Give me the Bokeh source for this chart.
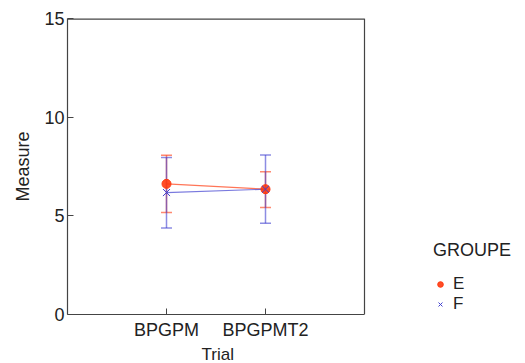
from bokeh.plotting import figure
from bokeh.models import ColumnDataSource, Whisker, TeeHead, Legend, LegendItem, FixedTicker, Span, Title
from bokeh.embed import file_html
from bokeh.resources import INLINE

trials = ["BPGPM", "BPGPMT2"]
groups = ["E", "F"]
e_mean = [6.62, 6.35]
e_upper = [8.07, 7.24]
e_lower = [5.17, 5.42]
f_mean = [6.18, 6.35]
f_upper = [7.96, 8.08]
f_lower = [4.38, 4.63]
y_ticks = [0, 5, 10, 15]

E_COLOR = "#ff3a10"
F_COLOR = "#4040d0"
FONT = "Liberation Sans"
AX = "#444444"
TXT = "#222222"

xs = [i + 1 for i in range(len(trials))]
X_MAX = len(trials) + 1          # visible box spans 0..3
BOX_PX = 297                     # box width in pixels
FRAME_PX = 525 - 67              # frame extends to the right edge so the legend can live there
x_end = X_MAX * FRAME_PX / BOX_PX

p = figure(width=525, height=363, output_backend="svg", toolbar_location=None,
           x_range=(0, x_end), y_range=(0, 15),
           min_border_left=67, min_border_right=0, min_border_top=18, min_border_bottom=10)
p.grid.visible = False
p.outline_line_color = None

for ax in (p.xaxis[0], p.yaxis[0]):
    ax.major_tick_in = 6
    ax.major_tick_out = 0
    ax.minor_tick_line_color = None
    ax.axis_line_color = AX
    ax.axis_line_width = 1.2
    ax.major_tick_line_color = AX
    ax.major_label_text_font = FONT
    ax.major_label_text_font_size = "18px"
    ax.major_label_text_color = TXT
    ax.axis_label_text_font = FONT
    ax.axis_label_text_font_size = "18px"
    ax.axis_label_text_font_style = "normal"
    ax.axis_label_text_color = TXT

p.xaxis.bounds = (0, X_MAX)
p.xaxis.ticker = FixedTicker(ticks=xs)
p.xaxis.major_label_overrides = {x: t for x, t in zip(xs, trials)}
p.xaxis.major_label_standoff = 5
p.yaxis.ticker = FixedTicker(ticks=y_ticks)
p.yaxis.axis_label = "Measure"
p.yaxis.major_label_standoff = 3
p.yaxis.axis_label_standoff = 8

# x-axis title, centred under the visible box rather than the wider frame
xtitle = Title(text="Trial", align="left", offset=134, standoff=0,
               text_font=FONT, text_font_size="17px", text_font_style="normal",
               text_color=TXT)
p.add_layout(xtitle, "below")

# box: right and top edges
p.add_layout(Span(location=X_MAX, dimension="height", line_color=AX, line_width=1.2))
p.segment(x0=[0], y0=[15], x1=[X_MAX], y1=[15], line_color=AX, line_width=2.4)

src_e = ColumnDataSource(dict(x=xs, y=e_mean, up=e_upper, lo=e_lower))
src_f = ColumnDataSource(dict(x=xs, y=f_mean, up=f_upper, lo=f_lower))

p.add_layout(Whisker(source=src_e, base="x", upper="up", lower="lo",
                     line_color=E_COLOR, line_alpha=0.6, line_width=1.5,
                     upper_head=TeeHead(size=11, line_color=E_COLOR, line_alpha=0.6, line_width=1.5),
                     lower_head=TeeHead(size=11, line_color=E_COLOR, line_alpha=0.6, line_width=1.5)))
p.add_layout(Whisker(source=src_f, base="x", upper="up", lower="lo",
                     line_color=F_COLOR, line_alpha=0.6, line_width=1.5,
                     upper_head=TeeHead(size=11, line_color=F_COLOR, line_alpha=0.6, line_width=1.5),
                     lower_head=TeeHead(size=11, line_color=F_COLOR, line_alpha=0.6, line_width=1.5)))

p.line("x", "y", source=src_e, line_color=E_COLOR, line_alpha=0.7, line_width=1.2)
p.line("x", "y", source=src_f, line_color=F_COLOR, line_alpha=0.7, line_width=1.2)
re = p.scatter("x", "y", source=src_e, marker="circle", size=9,
               fill_color=E_COLOR, line_color=E_COLOR, fill_alpha=0.9)
rf = p.scatter("x", "y", source=src_f, marker="x", size=10,
               line_color=F_COLOR, line_width=1.0)

legend = Legend(items=[LegendItem(label=groups[0], renderers=[re]),
                       LegendItem(label=groups[1], renderers=[rf])],
                title="GROUPE", location=(366, 0), margin=0, padding=0)
legend.title_text_font = FONT
legend.title_text_font_size = "18px"
legend.title_text_font_style = "normal"
legend.title_text_color = TXT
legend.label_text_font = FONT
legend.label_text_font_size = "17px"
legend.label_text_color = TXT
legend.border_line_color = None
legend.background_fill_alpha = 0
legend.glyph_width = 14
legend.glyph_height = 14
legend.label_height = 14
legend.spacing = 0
legend.label_standoff = 6
legend.title_standoff = 13
p.add_layout(legend, "center")

open("out.html", "w").write(file_html(p, INLINE))
